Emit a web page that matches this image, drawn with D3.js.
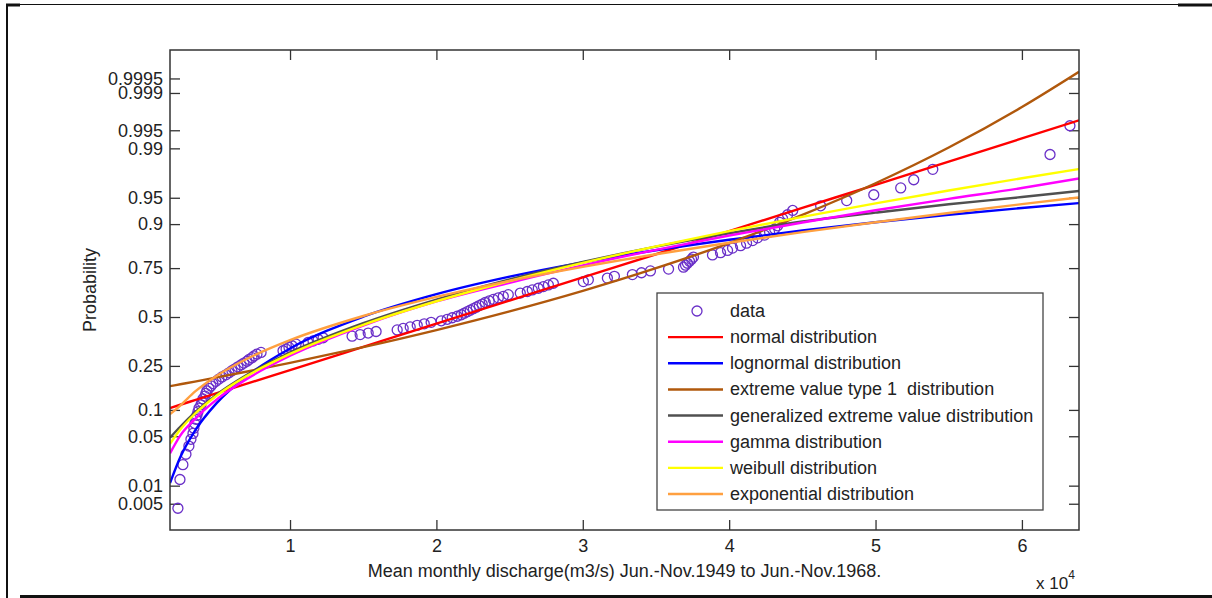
<!DOCTYPE html>
<html>
<head>
<meta charset="utf-8">
<script src="https://cdn.jsdelivr.net/npm/d3@7/dist/d3.min.js"></script>
<style>
  body { margin: 0; background: #fff; }
  svg text { font-family: "Liberation Sans", Arial, sans-serif; fill: #222; }
  .axis path { display: none; }
  .axis line { stroke: #333; stroke-width: 1.3; }
  .axis text { font-size: 18px; fill: #222; }
</style>
</head>
<body>
<div id="chart"></div>
<script>
// sorted discharge values (m3/s)
var discharge = [
  2340, 2480, 2680, 2890, 3090, 3230, 3370, 3430, 3500, 3570,
  3640, 3710, 3780, 3910, 3980, 4050, 4190, 4250, 4320, 4460,
  4600, 4730, 4940, 5140, 5350, 5620, 5830, 6030, 6240, 6440,
  6650, 6850, 7060, 7200, 7400, 7540, 7740, 8020, 9520, 9730,
  9930, 10140, 10410, 11230, 11570, 11920, 12260, 14240, 14790, 15340,
  15880, 17320, 17730, 18210, 18690, 19170, 19640, 20330, 20740, 21080,
  21420, 21700, 21900, 22110, 22310, 22520, 22720, 22930, 23130, 23340,
  23610, 23890, 24230, 24570, 24910, 25730, 26210, 26550, 26960, 27310,
  27650, 27990, 30040, 30380, 31680, 32160, 33390, 34010, 34620, 35860,
  36880, 37020, 37150, 37290, 37430, 37560, 38860, 39410, 39890, 40230,
  40780, 41190, 41600, 41940, 42420, 42760, 43110, 43310, 43450, 43650,
  43990, 44340, 46250, 48030, 49880, 51720, 52610, 53910, 61920, 63280
]

// fitted curves, probabilities read at these discharges
var fitX = [1800, 2500, 3500, 5000, 7000, 10000, 15000, 20000, 25000, 30000, 35000, 40000, 45000, 50000, 55000, 60000, 63900]
var normalP      = [0.1047, 0.1131, 0.1258, 0.1467, 0.1781, 0.2323, 0.3402, 0.4632, 0.5898, 0.7076, 0.8067, 0.8820, 0.9338, 0.9659, 0.9840, 0.99311, 0.99666]
var lognormalP   = [0.0110, 0.0266, 0.0582, 0.1180, 0.2059, 0.3319, 0.5016, 0.6238, 0.7112, 0.7746, 0.8214, 0.8567, 0.8835, 0.9044, 0.9207, 0.9337, 0.9420]
var extremeP     = [0.1700, 0.1767, 0.1866, 0.2024, 0.2253, 0.2635, 0.3388, 0.4285, 0.5308, 0.6407, 0.7496, 0.8460, 0.9206, 0.9675, 0.9903, 0.99811, 0.99964]
var genExtremeP  = [0.0480, 0.0650, 0.0940, 0.1430, 0.2110, 0.3120, 0.4660, 0.5950, 0.6980, 0.7760, 0.8340, 0.8760, 0.9060, 0.9250, 0.9400, 0.9510, 0.9590]
var gammaP       = [0.0300, 0.0510, 0.0795, 0.1279, 0.1948, 0.2963, 0.4529, 0.5851, 0.6818, 0.7618, 0.8229, 0.8694, 0.9037, 0.9295, 0.9483, 0.9624, 0.9720]
var weibullP     = [0.0400, 0.0602, 0.0910, 0.1396, 0.2063, 0.3052, 0.4571, 0.5860, 0.6904, 0.7723, 0.8349, 0.8819, 0.9164, 0.9415, 0.9595, 0.9722, 0.9794]
var exponentialP = [0.0900, 0.1108, 0.1515, 0.2092, 0.2801, 0.3747, 0.5055, 0.6090, 0.6908, 0.7555, 0.8066, 0.8470, 0.8791, 0.9044, 0.9244, 0.9402, 0.9505]

var seriesNames = ['normal distribution', 'lognormal distribution', 'extreme value type 1  distribution',
  'generalized extreme value distribution', 'gamma distribution', 'weibull distribution', 'exponential distribution']
var seriesColors = ['#ff0000', '#0000ff', '#b0580c', '#505050', '#ff00ff', '#ffff00', '#ffa040']
var seriesP = [normalP, lognormalP, extremeP, genExtremeP, gammaP, weibullP, exponentialP]

var xTicks = [10000, 20000, 30000, 40000, 50000, 60000]
var yTicks = [0.005, 0.01, 0.05, 0.1, 0.25, 0.5, 0.75, 0.9, 0.95, 0.99, 0.995, 0.999, 0.9995]

var width = 1212, height = 598
var box = {left: 170, right: 1079, top: 50, bottom: 530}
var dataColor = '#6a30c8'

// inverse normal cdf (Acklam)
function norminv (p) {
  var a = [-39.69683028665376, 220.9460984245205, -275.9285104469687, 138.3577518672690, -30.66479806614716, 2.506628277459239]
  var b = [-54.47609879822406, 161.5858368580409, -155.6989798598866, 66.80131188771972, -13.28068155288572]
  var c = [-0.007784894002430293, -0.3223964580411365, -2.400758277161838, -2.549732539343734, 4.374664141464968, 2.938163982698783]
  var d = [0.007784695709041462, 0.3224671290700398, 2.445134137142996, 3.754408661907416]
  var q, r
  if (p < 0.02425) {
    q = Math.sqrt(-2 * Math.log(p))
    return (((((c[0]*q+c[1])*q+c[2])*q+c[3])*q+c[4])*q+c[5]) / ((((d[0]*q+d[1])*q+d[2])*q+d[3])*q+1)
  } else if (p > 1 - 0.02425) {
    q = Math.sqrt(-2 * Math.log(1 - p))
    return -(((((c[0]*q+c[1])*q+c[2])*q+c[3])*q+c[4])*q+c[5]) / ((((d[0]*q+d[1])*q+d[2])*q+d[3])*q+1)
  }
  q = p - 0.5
  r = q * q
  return (((((a[0]*r+a[1])*r+a[2])*r+a[3])*r+a[4])*r+a[5])*q / (((((b[0]*r+b[1])*r+b[2])*r+b[3])*r+b[4])*r+1)
}

var svg = d3.select('#chart').append('svg').attr('width', width).attr('height', height)

var x = d3.scaleLinear().domain([1800, 63900]).range([box.left, box.right])
var z = d3.scaleLinear().domain([-2.938, 3.683]).range([box.bottom, box.top])
function y (p) { return z(norminv(p)) }

// outer frame bits from the screenshot
svg.append('line').attr('x1', 6).attr('x2', 1178).attr('y1', 4.5).attr('y2', 4.5).attr('stroke', '#111').attr('stroke-width', 1.2)
svg.append('line').attr('x1', 1178).attr('x2', 1212).attr('y1', 5).attr('y2', 5).attr('stroke', '#111').attr('stroke-width', 3)
svg.append('line').attr('x1', 6).attr('x2', 20).attr('y1', 5).attr('y2', 5).attr('stroke', '#111').attr('stroke-width', 3)
svg.append('line').attr('x1', 7).attr('x2', 7).attr('y1', 4).attr('y2', 598).attr('stroke', '#111').attr('stroke-width', 2)
svg.append('line').attr('x1', 20).attr('x2', 1212).attr('y1', 596.5).attr('y2', 596.5).attr('stroke', '#111').attr('stroke-width', 3)

svg.append('defs').append('clipPath').attr('id', 'plotclip')
  .append('rect').attr('x', box.left).attr('y', box.top)
  .attr('width', box.right - box.left).attr('height', box.bottom - box.top)

// axes, ticks pointing inward
svg.append('g').classed('axis', true)
  .attr('transform', 'translate(0,' + box.bottom + ')')
  .call(d3.axisBottom(x).tickValues(xTicks).tickFormat(d => d / 10000).tickSizeInner(-10).tickSizeOuter(0).tickPadding(9))
svg.append('g').classed('axis', true)
  .attr('transform', 'translate(0,' + box.top + ')')
  .call(d3.axisTop(x).tickValues(xTicks).tickFormat('').tickSizeInner(-10).tickSizeOuter(0))
svg.append('g').classed('axis', true)
  .attr('transform', 'translate(' + box.left + ',0)')
  .call(d3.axisLeft(z).tickValues(yTicks.map(norminv)).tickFormat((d, i) => yTicks[i]).tickSizeInner(-10).tickSizeOuter(0).tickPadding(7))
svg.append('g').classed('axis', true)
  .attr('transform', 'translate(' + box.right + ',0)')
  .call(d3.axisRight(z).tickValues(yTicks.map(norminv)).tickFormat('').tickSizeInner(-10).tickSizeOuter(0))

var plot = svg.append('g').attr('clip-path', 'url(#plotclip)')

// data circles
plot.selectAll('circle.data').data(discharge).enter()
  .append('circle').classed('data', true)
  .attr('cx', d => x(d))
  .attr('cy', (d, i) => y((i + 0.5) / discharge.length))
  .attr('r', 5)
  .attr('fill', 'none')
  .attr('stroke', dataColor)
  .attr('stroke-width', 1.3)

// fitted lines
var line = d3.line().x(d => x(d[0])).y(d => y(d[1])).curve(d3.curveMonotoneX)
seriesP.forEach((ps, k) => {
  plot.append('path')
    .datum(fitX.map((v, i) => [v, ps[i]]))
    .attr('d', line)
    .attr('fill', 'none')
    .attr('stroke', seriesColors[k])
    .attr('stroke-width', 2.4)
})

svg.append('rect').attr('x', box.left).attr('y', box.top)
  .attr('width', box.right - box.left).attr('height', box.bottom - box.top)
  .attr('fill', 'none').attr('stroke', '#333').attr('stroke-width', 1.5)

// legend
var lg = svg.append('g')
lg.append('rect').attr('x', 657).attr('y', 293).attr('width', 386).attr('height', 217)
  .attr('fill', '#fff').attr('stroke', '#444').attr('stroke-width', 1.3)
var rowY = d3.scaleLinear().domain([0, 7]).range([311, 494])
lg.append('circle').attr('cx', 697).attr('cy', rowY(0)).attr('r', 5)
  .attr('fill', 'none').attr('stroke', dataColor).attr('stroke-width', 1.3)
lg.append('text').attr('x', 730).attr('y', rowY(0) + 6).attr('font-size', 18).text('data')
seriesNames.forEach((n, k) => {
  lg.append('line').attr('x1', 668).attr('x2', 723).attr('y1', rowY(k + 1)).attr('y2', rowY(k + 1))
    .attr('stroke', seriesColors[k]).attr('stroke-width', 2.4)
  lg.append('text').attr('x', 730).attr('y', rowY(k + 1) + 6).attr('font-size', 18)
    .attr('xml:space', 'preserve').style('white-space', 'pre').text(n)
})

// axis titles
svg.append('text').attr('x', (box.left + box.right) / 2).attr('y', 577)
  .attr('text-anchor', 'middle').attr('font-size', 18)
  .text('Mean monthly discharge(m3/s) Jun.-Nov.1949 to Jun.-Nov.1968.')
svg.append('text').attr('transform', 'translate(96,' + (box.top + box.bottom) / 2 + ') rotate(-90)')
  .attr('text-anchor', 'middle').attr('font-size', 18).text('Probability')
var ex = svg.append('text').attr('x', 1036).attr('y', 589).attr('font-size', 17)
ex.append('tspan').text('x 10')
ex.append('tspan').attr('dy', -10).attr('font-size', 12).text('4')
</script>
</body>
</html>
